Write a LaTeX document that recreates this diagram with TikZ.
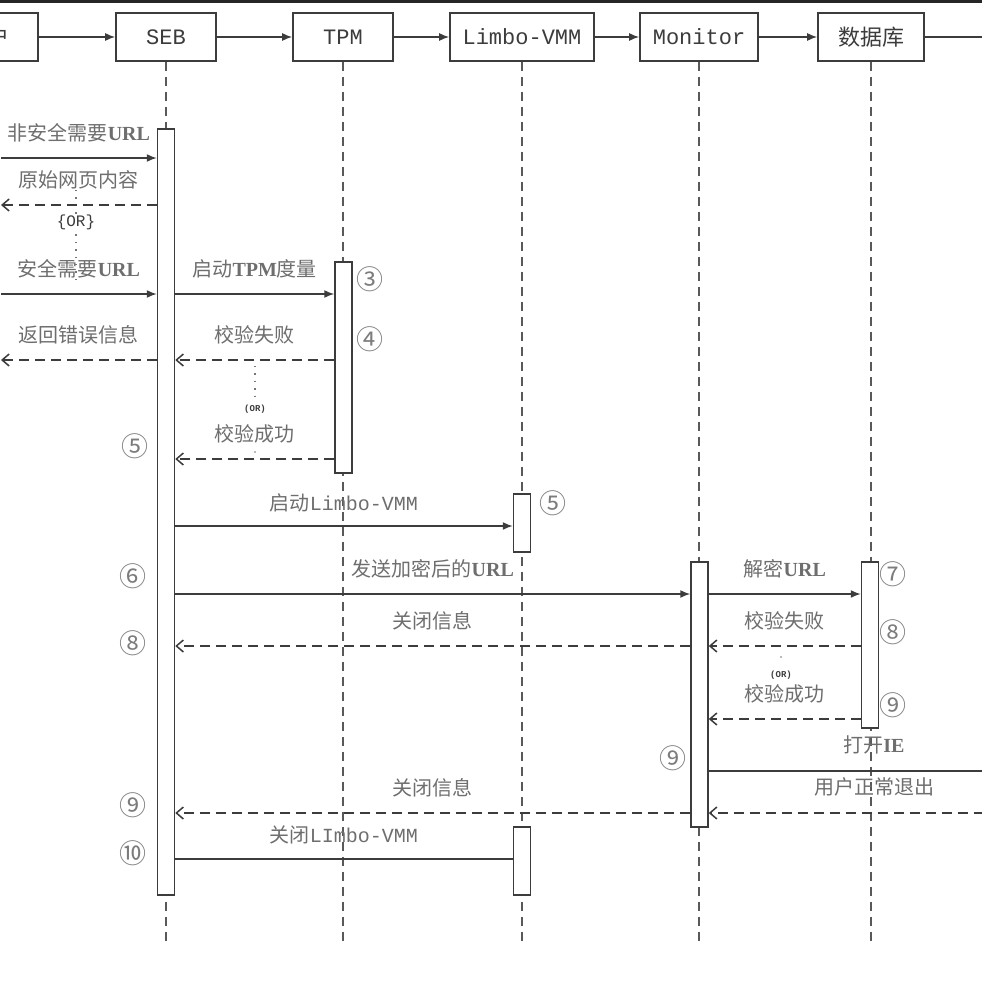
\documentclass[tikz,border=0pt]{standalone}
\usepackage{fontspec}
\usepackage{tikz}
\usetikzlibrary{arrows.meta}
\setmainfont{Liberation Serif}
\newfontfamily\cnfont{Noto Sans CJK SC}
\newfontfamily\ttfnt{Liberation Mono}
\definecolor{ink}{HTML}{3C3C3C}
\definecolor{lbl}{HTML}{6E6E6E}

\begin{document}
\begin{tikzpicture}[x=1pt, y=-1pt,
	head/.style={draw=ink, line width=1.6pt, minimum height=48pt, inner sep=0pt, text=ink, font=\ttfnt\fontsize{22}{24}\selectfont},
	life/.style={draw=ink!85, line width=1.6pt, dash pattern=on 9pt off 6pt},
	bar/.style={draw=ink, fill=white, line width=1.5pt, minimum width=17pt, inner sep=0pt, anchor=north},
	call/.style={draw=ink, line width=1.5pt, -{Latex[length=10pt, width=8pt]}},
	back/.style={draw=ink, line width=1.5pt, dash pattern=on 10pt off 6pt, -{Straight Barb[length=7pt, width=12pt]}},
	orline/.style={draw=ink!70, line width=1.3pt, dash pattern=on 1.4pt off 6pt},
	lab/.style={midway, yshift=25pt, inner sep=0pt, text=lbl, font=\cnfont\fontsize{20}{22}\selectfont},
	msg/.style={inner sep=0pt, text=lbl, font=\cnfont\fontsize{20}{22}\selectfont},
	num/.style={inner sep=0pt, text=lbl!90, font=\cnfont\fontsize{27}{28}\selectfont},
	ortag/.style={inner sep=1pt, fill=white, text=ink, font=\ttfnt\bfseries\fontsize{9}{10}\selectfont}]

\useasboundingbox (0,0) rectangle (982,982);
\clip (0,0) rectangle (982,982);
\fill[white] (0,0) rectangle (982,982);
\fill[black!85] (0,0) rectangle (982,3.5);

\node[head, minimum width=100pt] (usr) at (-12,37) {{\cnfont 用户}};
\node[head, minimum width=100pt] (seb) at (166,37) {SEB};
\node[head, minimum width=100pt] (tpm) at (343,37) {TPM};
\node[head, minimum width=144pt] (vmm) at (522,37) {Limbo-VMM};
\node[head, minimum width=118pt] (mon) at (699,37) {Monitor};
\node[head, minimum width=106pt] (db) at (871,37) {{\cnfont 数据库}};
\coordinate (ie) at (1000,37);

\draw[call] (usr) -- (seb);
\draw[call] (seb) -- (tpm);
\draw[call] (tpm) -- (vmm);
\draw[call] (vmm) -- (mon);
\draw[call] (mon) -- (db);
\draw[call] (db) -- (ie);

\foreach \n in {seb,tpm,vmm,mon,db}
	\draw[life] (\n.south) -- (\n |- 0,945);

\node[bar, minimum height=766pt] (sebbar) at (166,128) {};
\node[bar, minimum height=211pt] (tpmbar) at (343.5,261) {};
\node[bar, minimum height=58pt] (vmmbar) at (522,493) {};
\node[bar, minimum height=68pt] (vmmend) at (522,826) {};
\node[bar, minimum height=265pt] (monbar) at (699.5,561) {};
\node[bar, minimum height=166pt] (dbbar) at (870,561) {};
\coordinate (usrbar) at (1,0);
\coordinate (iebar) at (1000,0);

\draw[orline] (76,190) -- (76,285);
\node[ortag, font=\ttfnt\fontsize{16}{18}\selectfont] (or1) at (76,222) {\{OR\}};
\draw[orline] (255,366) -- (255,398);
\node[ortag] (or2) at (255,409) {(OR)};
\fill[ink!70] (255,452) circle (0.9pt);
\fill[ink!70] (781,657) circle (0.9pt);
\node[ortag] (or3) at (781,675) {(OR)};

\draw[call] (usrbar |- 0,158) -- (sebbar.west |- 0,158) node[lab] (l1) {非安全需要{\rmfamily\bfseries URL}};
\draw[back] (sebbar.west |- 0,205) -- (usrbar |- 0,205) node[lab] (l2) {原始网页内容};
\draw[call] (usrbar |- 0,294) -- (sebbar.west |- 0,294) node[lab] (l3) {安全需要{\rmfamily\bfseries URL}};
\draw[back] (sebbar.west |- 0,360) -- (usrbar |- 0,360) node[lab] (l4) {返回错误信息};

\draw[call] (sebbar.east |- 0,294) -- (tpmbar.west |- 0,294) node[lab] (l5) {启动{\rmfamily\bfseries TPM}度量};
\draw[back] (tpmbar.west |- 0,360) -- (sebbar.east |- 0,360) node[lab] (l6) {校验失败};
\draw[back] (tpmbar.west |- 0,459) -- (sebbar.east |- 0,459) node[lab] (l7) {校验成功};

\draw[call] (sebbar.east |- 0,526) -- (vmmbar.west |- 0,526) node[lab, yshift=-2pt] (l8) {启动{\ttfnt Limbo-VMM}};
\draw[call] (sebbar.east |- 0,594) -- (monbar.west |- 0,594) node[lab] (l9) {发送加密后的{\rmfamily\bfseries URL}};
\draw[back] (monbar.west |- 0,646) -- (sebbar.east |- 0,646) node[lab] (l10) {关闭信息};

\draw[call] (monbar.east |- 0,594) -- (dbbar.west |- 0,594) node[lab] (l11) {解密{\rmfamily\bfseries URL}};
\draw[back] (dbbar.west |- 0,646) -- (monbar.east |- 0,646) node[lab] (l12) {校验失败};
\draw[back] (dbbar.west |- 0,719) -- (monbar.east |- 0,719) node[lab] (l13) {校验成功};
\draw[call] (monbar.east |- 0,771) -- (iebar |- 0,771);
\node[msg] (l14) at (874,745) {打开{\rmfamily\bfseries IE}};
\draw[back] (iebar |- 0,813) -- (monbar.east |- 0,813);
\node[msg] (l15) at (874,787) {用户正常退出};

\draw[back] (monbar.west |- 0,813) -- (sebbar.east |- 0,813) node[lab] (l16) {关闭信息};
\draw[draw=ink, line width=1.5pt] (sebbar.east |- 0,859) -- (vmmend.west |- 0,859) node[lab, yshift=-1pt] (l17) {关闭{\ttfnt LImbo-VMM}};

\foreach \t/\x/\y [count=\i] in {③/370/279, ④/370/339, ⑤/135/446, ⑤/553/503, ⑥/133/576, ⑦/893/574, ⑧/893/632, ⑧/133/643, ⑨/893/705, ⑨/673/758, ⑨/133/805, ⑩/133/853}
	\node[num] (step\i) at (\x,\y) {\t};
\end{tikzpicture}
\end{document}
